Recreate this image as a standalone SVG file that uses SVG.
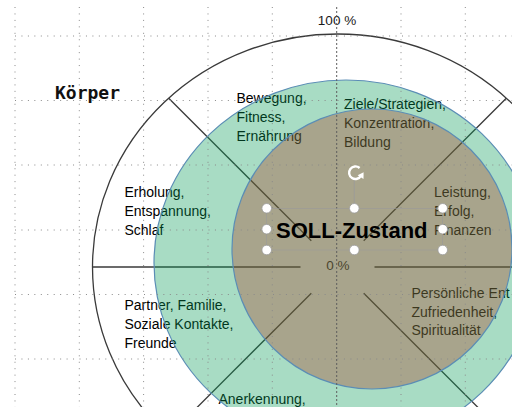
<svg xmlns="http://www.w3.org/2000/svg" width="512" height="407" viewBox="0 0 512 407">
<defs>
<style>
.lbl{font-family:"Liberation Sans",Arial,sans-serif;font-size:14px;fill:#000}
.pct{font-family:"Liberation Sans",Arial,sans-serif;font-size:13.5px;fill:#1a1a1a;text-anchor:middle}
.conn{stroke:#3a3a3a;stroke-width:1.3;fill:none}
.grid{stroke:#8a8a8a;stroke-width:1;stroke-dasharray:1 5.45;fill:none}
.guide{stroke:#5e5e5e;stroke-width:1;stroke-dasharray:2 2;fill:none}
.handle{fill:#fff;stroke:#9a9a9a;stroke-width:0.8}
</style>
</defs>
<rect width="512" height="407" fill="#fff"/>

<g id="outer-ring">
<ellipse cx="337.5" cy="267" rx="245" ry="233" fill="none" stroke="#3a3a3a" stroke-width="1.3"/>
</g>

<g id="connectors">
<line class="conn" x1="168.7" y1="98.2" x2="311.3" y2="240.8"/>
<line class="conn" x1="506.3" y1="98.2" x2="363.7" y2="240.8"/>
<line class="conn" x1="92.5" y1="267" x2="300.5" y2="267"/>
<line class="conn" x1="374.5" y1="267" x2="582.5" y2="267"/>
<line class="conn" x1="311.3" y1="293.2" x2="168.7" y2="435.8"/>
<line class="conn" x1="363.7" y1="293.2" x2="506.3" y2="435.8"/>
</g>

<g id="label-100">
<text class="pct" x="337" y="25">100 %</text>
</g>
<g id="label-0">
<text class="pct" x="338" y="270">0 %</text>
</g>
<g id="label-koerper">
<text x="55" y="99" style="font-family:'DejaVu Sans Mono','Liberation Mono',monospace;font-size:18px;font-weight:bold;fill:#111">Körper</text>
</g>
<g id="seg-bewegung">
<text class="lbl" x="236.5" y="102.5">Bewegung,</text>
<text class="lbl" x="236.5" y="122">Fitness,</text>
<text class="lbl" x="236.5" y="141">Ernährung</text>
</g>
<g id="seg-ziele">
<text class="lbl" x="344" y="108.5">Ziele/Strategien,</text>
<text class="lbl" x="344" y="127.5">Konzentration,</text>
<text class="lbl" x="344" y="146.5">Bildung</text>
</g>
<g id="seg-erholung">
<text class="lbl" x="124.5" y="196.5">Erholung,</text>
<text class="lbl" x="124.5" y="215.5">Entspannung,</text>
<text class="lbl" x="124.5" y="234.5">Schlaf</text>
</g>
<g id="seg-partner">
<text class="lbl" x="124.5" y="310">Partner, Familie,</text>
<text class="lbl" x="124.5" y="329">Soziale Kontakte,</text>
<text class="lbl" x="124.5" y="347.5">Freunde</text>
</g>
<g id="seg-leistung">
<text class="lbl" x="434" y="197">Leistung,</text>
<text class="lbl" x="434" y="216">Erfolg,</text>
<text class="lbl" x="434" y="235">Finanzen</text>
</g>
<g id="seg-persoenlich">
<text class="lbl" x="411.5" y="298">Persönliche Ent</text>
<text class="lbl" x="411.5" y="316.5">Zufriedenheit,</text>
<text class="lbl" x="411.5" y="335">Spiritualität</text>
</g>
<g id="seg-anerkennung">
<text class="lbl" x="218.5" y="404">Anerkennung,</text>
</g>

<g id="ist-zustand">
<ellipse cx="346" cy="263" rx="192" ry="183" fill="#069a56" fill-opacity="0.35" stroke="#5b8db5" stroke-width="1.2"/>
</g>
<g id="soll-kreis">
<circle cx="372" cy="249" r="140" fill="#a83c25" fill-opacity="0.35" stroke="#5b8db5" stroke-width="1.2"/>
</g>

<g id="grid">
<line class="grid" x1="15" y1="7" x2="15" y2="407"/>
<line class="grid" x1="79.3" y1="7" x2="79.3" y2="407"/>
<line class="grid" x1="143.6" y1="7" x2="143.6" y2="407"/>
<line class="grid" x1="208" y1="7" x2="208" y2="407"/>
<line class="grid" x1="272.3" y1="7" x2="272.3" y2="407"/>
<line class="grid" x1="401" y1="7" x2="401" y2="407"/>
<line class="grid" x1="465.3" y1="7" x2="465.3" y2="407"/>
<line class="grid" x1="15" y1="36" x2="512" y2="36"/>
<line class="grid" x1="15" y1="100.5" x2="512" y2="100.5"/>
<line class="grid" x1="15" y1="165" x2="512" y2="165"/>
<line class="grid" x1="15" y1="230" x2="512" y2="230"/>
<line class="grid" x1="15" y1="294.5" x2="512" y2="294.5"/>
<line class="grid" x1="15" y1="359" x2="512" y2="359"/>
<line class="guide" x1="336.7" y1="7" x2="336.7" y2="407"/>
</g>

<g id="soll-zustand">
<rect x="266.7" y="208.3" width="176" height="41.7" fill="none" stroke="#9a9a9a" stroke-width="0.6"/>
<line x1="354.3" y1="180" x2="354.3" y2="204" stroke="#9a9a9a" stroke-width="0.8"/>
<text x="276" y="237.5" style="font-family:'Liberation Sans',Arial,sans-serif;font-size:22px;font-weight:bold;fill:#000">SOLL-Zustand</text>
<circle class="handle" cx="266.7" cy="208.3" r="4.8"/>
<circle class="handle" cx="354.3" cy="208.3" r="4.8"/>
<circle class="handle" cx="442.7" cy="208.3" r="4.8"/>
<circle class="handle" cx="266.7" cy="229.2" r="4.8"/>
<circle class="handle" cx="442.7" cy="229.2" r="4.8"/>
<circle class="handle" cx="266.7" cy="250" r="4.8"/>
<circle class="handle" cx="354.3" cy="250" r="4.8"/>
<circle class="handle" cx="442.7" cy="250" r="4.8"/>
<path d="M359.6 168 A6.3 6.3 0 1 0 361 175.6" fill="none" stroke="#fff" stroke-width="2.4"/>
<polygon points="357.6,175.2 363.6,172.3 363.5,179" fill="#fff"/>
</g>
</svg>
